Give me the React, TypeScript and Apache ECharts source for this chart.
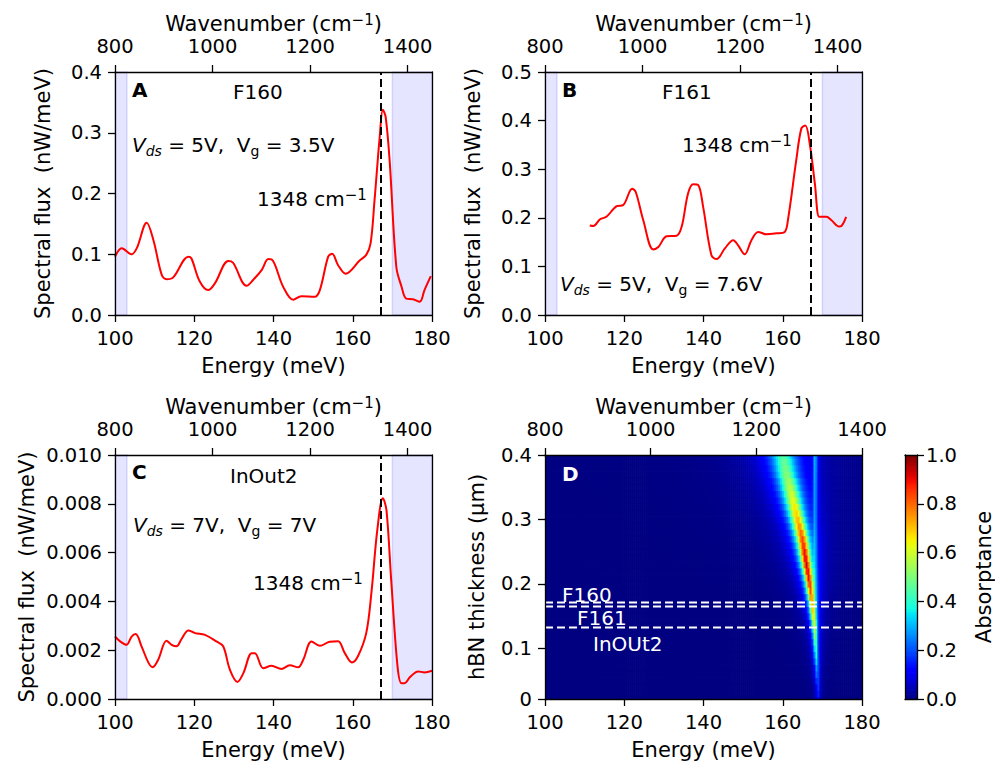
import React, { useEffect, useRef } from "react";
import * as echarts from "echarts";

const FF = "DejaVu Sans";

// ---------- data ----------
const energyA = [100, 101.7, 104.2, 105.5, 108, 109.7, 111.8, 113, 114.7, 118.5, 119.3, 121.4, 123.5, 125.2, 128.6, 129.8, 133.2, 134.9, 137, 138.7, 139.5, 142.4, 145, 147, 150.4, 151.7, 153.8, 154.8, 156.3, 158.2, 161.8, 163.4, 164.5, 165.5, 166.8, 167.6, 168.3, 169.3, 171, 172.3, 173.5, 175.2, 176.9, 178.1, 179.7];
const fluxA = [0.096, 0.110, 0.100, 0.110, 0.152, 0.123, 0.066, 0.059, 0.062, 0.096, 0.093, 0.055, 0.041, 0.052, 0.089, 0.086, 0.048, 0.058, 0.074, 0.092, 0.0915, 0.047, 0.025, 0.031, 0.030, 0.041, 0.096, 0.101, 0.082, 0.068, 0.090, 0.099, 0.118, 0.189, 0.293, 0.338, 0.326, 0.255, 0.079, 0.047, 0.027, 0.026, 0.022, 0.041, 0.064];

const energyB = [111.3, 112.2, 113.9, 115.5, 118.1, 119.7, 122, 122.9, 124.8, 127.3, 128.6, 130.7, 133.2, 134.5, 136.1, 137.4, 138.7, 139.9, 142, 143.3, 145.4, 147.5, 148.7, 150.4, 152.1, 153.8, 155.9, 158.4, 160.5, 161.3, 163.4, 164.7, 165.7, 166.8, 168.1, 169.2, 170.2, 171, 172.3, 174.2, 174.8, 176];
const fluxB = [0.184, 0.183, 0.197, 0.202, 0.224, 0.226, 0.260, 0.253, 0.195, 0.135, 0.140, 0.162, 0.163, 0.182, 0.250, 0.269, 0.267, 0.223, 0.123, 0.115, 0.137, 0.154, 0.144, 0.125, 0.154, 0.171, 0.166, 0.168, 0.171, 0.195, 0.318, 0.384, 0.390, 0.353, 0.271, 0.202, 0.202, 0.202, 0.195, 0.182, 0.183, 0.202];

const energyC = [100, 101.3, 102.9, 104.2, 105.2, 106.7, 108.4, 109.5, 110.9, 113, 114.3, 115.5, 116.8, 118.5, 120.2, 122.7, 125.6, 127.3, 129, 130.9, 132.4, 134.5, 135.3, 137.4, 139.5, 142, 144.1, 146.2, 147.5, 149.6, 151.7, 154.2, 156.3, 158, 159.8, 161.3, 163.4, 164.7, 166.2, 167.6, 168.5, 169.7, 171.3, 172.3, 173.1, 174.4, 176.5, 178.1, 180];
const fluxC = [0.00256, 0.00236, 0.00222, 0.00256, 0.00266, 0.00216, 0.0015, 0.0013, 0.00161, 0.00239, 0.00222, 0.00216, 0.00246, 0.00281, 0.0027, 0.00263, 0.00236, 0.00216, 0.0012, 0.0007, 0.00106, 0.00188, 0.00188, 0.00126, 0.00136, 0.00123, 0.00138, 0.0013, 0.00161, 0.00236, 0.00218, 0.00235, 0.00237, 0.00188, 0.0015, 0.00175, 0.0027, 0.00434, 0.00693, 0.00823, 0.00775, 0.00488, 0.00134, 0.00065, 0.00065, 0.00089, 0.00113, 0.00109, 0.00116];

const shadeLow = [100, 103];
const shadeHigh = [170, 180];
const phononWavenumber = 1348; // cm^-1
const phononEnergy = phononWavenumber / 8.0655; // meV

const wavenumberTicks = [800, 1000, 1200, 1400];

// panel D: ridge parameters per thickness row
const dThickness = [0.02, 0.03, 0.04, 0.05, 0.06, 0.07, 0.08, 0.09, 0.10, 0.11, 0.12, 0.13, 0.14, 0.15, 0.16, 0.17, 0.18, 0.19, 0.20, 0.21, 0.22, 0.23, 0.24, 0.25, 0.26, 0.27, 0.28, 0.29, 0.30, 0.31, 0.32, 0.33, 0.34, 0.35, 0.36, 0.37, 0.38, 0.39, 0.40];
const dCenter = [169.0, 168.95, 168.9, 168.8, 168.7, 168.65, 168.55, 168.45, 168.35, 168.25, 168.15, 168.05, 167.9, 167.7, 167.55, 167.4, 167.2, 167.0, 166.8, 166.55, 166.3, 166.0, 165.75, 165.5, 165.25, 164.95, 164.6, 164.2, 163.8, 163.4, 163.0, 162.6, 162.25, 161.85, 161.5, 161.0, 160.7, 160.4, 160.1];
const dHwhm = [0.4, 0.42, 0.44, 0.46, 0.48, 0.5, 0.53, 0.56, 0.58, 0.6, 0.63, 0.66, 0.7, 0.74, 0.78, 0.83, 0.88, 0.93, 0.98, 1.04, 1.1, 1.17, 1.25, 1.33, 1.42, 1.52, 1.62, 1.72, 1.83, 1.95, 2.07, 2.2, 2.33, 2.46, 2.6, 2.74, 2.88, 3.02, 3.15];
const dPeak = [0.12, 0.15, 0.18, 0.21, 0.25, 0.28, 0.32, 0.36, 0.40, 0.44, 0.48, 0.53, 0.58, 0.63, 0.68, 0.73, 0.78, 0.83, 0.87, 0.90, 0.92, 0.93, 0.92, 0.90, 0.87, 0.84, 0.80, 0.76, 0.72, 0.69, 0.66, 0.63, 0.60, 0.57, 0.54, 0.51, 0.49, 0.47, 0.45];
const dLineAmp = [0.02, 0.02, 0.02, 0.03, 0.03, 0.03, 0.04, 0.04, 0.05, 0.05, 0.06, 0.06, 0.07, 0.08, 0.08, 0.09, 0.1, 0.11, 0.12, 0.13, 0.14, 0.15, 0.16, 0.17, 0.18, 0.19, 0.2, 0.21, 0.22, 0.23, 0.24, 0.25, 0.26, 0.27, 0.28, 0.29, 0.3, 0.31, 0.32];
const dLineCenter = 168.2;
const dLineHwhm = 0.35;

const cutThickness = [0.171, 0.1645, 0.132];
const cutLabels = ["F160", "F161", "InOUt2"];

const dYTicks = [0.021, 0.1, 0.2, 0.3, 0.4];
const dYTickLabels = ["0", "0.1", "0.2", "0.3", "0.4"];

// ---------- helpers ----------
function jet(v: number) {
  const seg = (pts: number[][]) => {
    for (let i = 0; i < pts.length - 1; i++) {
      const [x0, y0] = pts[i];
      const [x1, y1] = pts[i + 1];
      if (v <= x1) return y0 + ((y1 - y0) * (v - x0)) / (x1 - x0);
    }
    return pts[pts.length - 1][1];
  };
  const r = seg([[0, 0], [0.35, 0], [0.66, 1], [0.89, 1], [1, 0.5]]);
  const g = seg([[0, 0], [0.125, 0], [0.375, 1], [0.64, 1], [0.91, 0], [1, 0]]);
  const b = seg([[0, 0.5], [0.11, 1], [0.34, 1], [0.65, 0], [1, 0]]);
  return `rgb(${Math.round(r * 255)},${Math.round(g * 255)},${Math.round(b * 255)})`;
}
const jetColors = Array.from({ length: 41 }, (_, i) => jet(i / 40));

const zip = (xs: number[], ys: number[]) => xs.map((x, i) => [x, ys[i]]);

const LS = { color: "#000", width: 1.3 };
const TICK_FS = 19.5;
const NAME_FS = 21;

const nameRich = {
  n: { fontFamily: FF, fontSize: NAME_FS, lineHeight: NAME_FS, color: "#000", verticalAlign: "bottom" },
  sup: { fontFamily: FF, fontSize: 15, lineHeight: 15, color: "#000", padding: [0, 0, 7, 0], verticalAlign: "bottom" },
};

function energyAxis(gridIndex: number) {
  return {
    type: "value", gridIndex, position: "bottom", min: 100, max: 180, interval: 20,
    name: "Energy (meV)", nameLocation: "middle", nameGap: 40,
    nameTextStyle: { fontFamily: FF, fontSize: NAME_FS, color: "#000" },
    axisLine: { show: true, onZero: false, lineStyle: LS },
    axisTick: { show: true, inside: false, length: 7, lineStyle: LS },
    axisLabel: { fontFamily: FF, fontSize: TICK_FS, color: "#000", margin: 13, formatter: (v: number) => String(v) },
    splitLine: { show: false }, z: 10,
  };
}
function wavenumberAxis(gridIndex: number, max: number) {
  return {
    type: "value", gridIndex, position: "top", min: 800, max,
    name: "{n|Wavenumber (cm}{sup|−1}{n|)}", nameLocation: "middle", nameGap: 38,
    nameTextStyle: { fontFamily: FF, fontSize: NAME_FS, color: "#000", rich: nameRich },
    axisLine: { show: true, onZero: false, lineStyle: LS },
    axisTick: { show: true, inside: false, length: 7, lineStyle: LS, customValues: wavenumberTicks },
    axisLabel: { fontFamily: FF, fontSize: TICK_FS, color: "#000", margin: 16, customValues: wavenumberTicks, formatter: (v: number) => String(Math.round(v)) },
    splitLine: { show: false }, z: 10,
  };
}
function leftAxis(gridIndex: number, max: number, interval: number, digits: number, name: string, nameGap: number) {
  return {
    type: "value", gridIndex, position: "left", min: 0, max, interval,
    name, nameLocation: "middle", nameGap, nameRotate: 90,
    nameTextStyle: { fontFamily: FF, fontSize: NAME_FS, color: "#000" },
    axisLine: { show: true, onZero: false, lineStyle: LS },
    axisTick: { show: true, inside: false, length: 7, lineStyle: LS },
    axisLabel: { fontFamily: FF, fontSize: TICK_FS, color: "#000", margin: 13, formatter: (v: number) => v.toFixed(digits) },
    splitLine: { show: false }, z: 10,
  };
}
function rightLine(gridIndex: number) {
  return {
    type: "value", gridIndex, position: "right", min: 0, max: 1,
    axisLine: { show: true, onZero: false, lineStyle: LS },
    axisTick: { show: false }, axisLabel: { show: false }, splitLine: { show: false }, z: 10,
  };
}

function spectrumSeries(idx: number, data: number[][]) {
  return {
    type: "line", xAxisIndex: idx, yAxisIndex: idx, data, smooth: 0.35, symbol: "none",
    lineStyle: { color: "#ff0000", width: 2 }, silent: true, z: 3,
    markArea: {
      silent: true,
      itemStyle: { color: "rgba(0,0,255,0.1)", borderColor: "rgba(0,0,255,0.13)", borderWidth: 1.5 },
      data: [
        [{ xAxis: shadeLow[0] }, { xAxis: shadeLow[1] }],
        [{ xAxis: shadeHigh[0] }, { xAxis: shadeHigh[1] }],
      ],
    },
    markLine: {
      silent: true, symbol: ["none", "none"], label: { show: false },
      lineStyle: { color: "#000", type: [8, 4], width: 2 },
      data: [{ xAxis: phononEnergy }],
    },
  };
}

const norm = { fontFamily: FF, fontSize: 20, lineHeight: 20, color: "#000", padding: [0, 0, 3, 0], verticalAlign: "bottom" };
const annotRich = {
  it: { ...norm, fontStyle: "italic" },
  its: { fontFamily: FF, fontSize: 14, lineHeight: 14, color: "#000", fontStyle: "italic", verticalAlign: "bottom" },
  n: norm,
  s: { fontFamily: FF, fontSize: 14, lineHeight: 14, color: "#000", verticalAlign: "bottom" },
  m: { fontFamily: FF, fontSize: 20, lineHeight: 20, color: "#000", verticalAlign: "bottom" },
  sup: { fontFamily: FF, fontSize: 15, lineHeight: 15, color: "#000", padding: [0, 0, 7, 0], verticalAlign: "bottom" },
};

function txt(x: number, y: number, text: string, opts: any = {}) {
  return {
    type: "text", x, y, z: 100, silent: true,
    style: { text, fontFamily: FF, fontSize: 20, fill: "#000", align: "left", verticalAlign: "middle", ...opts },
  };
}
const vText = (vds: string, vg: string) => `{it|V}{its|ds}{n| = ${vds},  V}{s|g}{n| = ${vg}}`;
const wnText = `{m|${phononWavenumber} cm}{sup|−1}`;

export default function App() {
  const ref = useRef<HTMLDivElement>(null);
  useEffect(() => {
    document.body.style.margin = "0";
    if (!ref.current) return;
    const chart = echarts.init(ref.current, null, { renderer: "svg" });

    const heatData: number[][] = [];
    for (let i = 0; i < dThickness.length; i++) {
      for (let k = 0; k <= 160; k++) {
        const e = 100 + k * 0.5;
        const r = (e - dCenter[i]) / dHwhm[i];
        const l = (e - dLineCenter) / dLineHwhm;
        const v = Math.min(1, dPeak[i] / (1 + r * r) + dLineAmp[i] / (1 + l * l));
        heatData.push([e, dThickness[i], v]);
      }
    }
    const cbData: number[][] = [];
    for (let k = 0; k < 100; k++) {
      const v = (k + 0.5) / 100;
      cbData.push([0.5, v, v]);
    }

    const clipTo = (rect: any, cs: any) =>
      echarts.graphic.clipRectByRect(rect, { x: cs.x, y: cs.y, width: cs.width, height: cs.height });

    const option: any = {
      animation: false,
      backgroundColor: "#fff",
      grid: [
        { left: 115, top: 72, width: 317, height: 243 },
        { left: 545, top: 72, width: 317, height: 243 },
        { left: 115, top: 455, width: 317, height: 244 },
        { left: 545, top: 455, width: 317, height: 244 },
        { left: 905, top: 455, width: 13, height: 244 },
      ],
      xAxis: [
        energyAxis(0), wavenumberAxis(0, 1450),
        energyAxis(1), wavenumberAxis(1, 1450),
        energyAxis(2), wavenumberAxis(2, 1450),
        energyAxis(3), wavenumberAxis(3, 1400),
        { type: "value", gridIndex: 4, position: "bottom", min: 0, max: 1, axisLine: { show: true, onZero: false, lineStyle: LS }, axisTick: { show: false }, axisLabel: { show: false }, splitLine: { show: false }, z: 10 },
        { type: "value", gridIndex: 4, position: "top", min: 0, max: 1, axisLine: { show: true, onZero: false, lineStyle: LS }, axisTick: { show: false }, axisLabel: { show: false }, splitLine: { show: false }, z: 10 },
      ],
      yAxis: [
        leftAxis(0, 0.4, 0.1, 1, "Spectral flux  (nW/meV)", 62), rightLine(0),
        leftAxis(1, 0.5, 0.1, 1, "Spectral flux  (nW/meV)", 62), rightLine(1),
        leftAxis(2, 0.01, 0.002, 3, "Spectral flux  (nW/meV)", 78), rightLine(2),
        {
          type: "value", gridIndex: 3, position: "left", min: dYTicks[0], max: 0.4,
          name: "hBN thickness (μm)", nameLocation: "middle", nameGap: 58, nameRotate: 90,
          nameTextStyle: { fontFamily: FF, fontSize: NAME_FS, color: "#000" },
          axisLine: { show: true, onZero: false, lineStyle: LS },
          axisTick: { show: true, inside: false, length: 7, lineStyle: LS, customValues: dYTicks },
          axisLabel: {
            fontFamily: FF, fontSize: TICK_FS, color: "#000", margin: 13, customValues: dYTicks,
            formatter: (v: number) => {
              let best = 0;
              dYTicks.forEach((t, i) => { if (Math.abs(t - v) < Math.abs(dYTicks[best] - v)) best = i; });
              return dYTickLabels[best];
            },
          },
          splitLine: { show: false }, z: 10,
        },
        rightLine(3),
        { type: "value", gridIndex: 4, position: "left", min: 0, max: 1, axisLine: { show: true, onZero: false, lineStyle: LS }, axisTick: { show: false }, axisLabel: { show: false }, splitLine: { show: false }, z: 10 },
        {
          type: "value", gridIndex: 4, position: "right", min: 0, max: 1, interval: 0.2,
          name: "Absorptance", nameLocation: "middle", nameGap: 56, nameRotate: 90,
          nameTextStyle: { fontFamily: FF, fontSize: NAME_FS, color: "#000" },
          axisLine: { show: true, onZero: false, lineStyle: LS },
          axisTick: { show: true, inside: false, length: 7, lineStyle: LS },
          axisLabel: { fontFamily: FF, fontSize: TICK_FS, color: "#000", margin: 9, formatter: (v: number) => v.toFixed(1) },
          splitLine: { show: false }, z: 10,
        },
      ],
      visualMap: {
        type: "continuous", show: false, min: 0, max: 1, dimension: 2,
        seriesIndex: [3, 4], inRange: { color: jetColors },
      },
      series: [
        spectrumSeries(0, zip(energyA, fluxA)),
        spectrumSeries(2, zip(energyB, fluxB)),
        spectrumSeries(4, zip(energyC, fluxC)),
        {
          type: "custom", xAxisIndex: 6, yAxisIndex: 6, data: heatData, silent: true, z: 1,
          renderItem: (params: any, api: any) => {
            const e = api.value(0), t = api.value(1);
            const p0 = api.coord([e - 0.25, t + 0.005]);
            const p1 = api.coord([e + 0.25, t - 0.005]);
            const rect = clipTo({ x: p0[0], y: p0[1], width: p1[0] - p0[0] + 0.7, height: p1[1] - p0[1] + 0.7 }, params.coordSys);
            if (!rect) return null;
            return { type: "rect", shape: rect, style: { fill: api.visual("color") } };
          },
        },
        {
          type: "custom", xAxisIndex: 8, yAxisIndex: 9, data: cbData, silent: true, z: 1,
          renderItem: (params: any, api: any) => {
            const v = api.value(1);
            const p0 = api.coord([0, v + 0.005]);
            const p1 = api.coord([1, v - 0.005]);
            const rect = clipTo({ x: p0[0], y: p0[1], width: p1[0] - p0[0], height: p1[1] - p0[1] + 0.7 }, params.coordSys);
            if (!rect) return null;
            return { type: "rect", shape: rect, style: { fill: api.visual("color") } };
          },
        },
        ...cutThickness.map((t) => ({
          type: "line", xAxisIndex: 6, yAxisIndex: 6, data: [[100, t], [180, t]], symbol: "none", silent: true, z: 5,
          lineStyle: { color: "#fff", type: [8, 4], width: 2 },
        })),
      ],
      graphic: [
        txt(132, 90, "A", { fontWeight: "bold", fontSize: 20 }),
        txt(233, 92, "F160"),
        txt(132, 147.5, vText("5V", "3.5V"), { rich: annotRich }),
        txt(257, 199, wnText, { rich: annotRich }),

        txt(562, 90, "B", { fontWeight: "bold", fontSize: 20 }),
        txt(662, 92, "F161"),
        txt(682, 145, wnText, { rich: annotRich }),
        txt(560, 286.5, vText("5V", "7.6V"), { rich: annotRich }),

        txt(132, 472, "C", { fontWeight: "bold", fontSize: 20 }),
        txt(230, 476, "InOut2"),
        txt(133, 527.5, vText("7V", "7V"), { rich: annotRich }),
        txt(253, 583, wnText, { rich: annotRich }),

        txt(562, 474, "D", { fontWeight: "bold", fontSize: 20, fill: "#fff" }),
        txt(562, 594.7, cutLabels[0], { fill: "#fff" }),
        txt(577, 618, cutLabels[1], { fill: "#fff" }),
        txt(593, 644, cutLabels[2], { fill: "#fff" }),
      ],
    };
    chart.setOption(option);
    return () => chart.dispose();
  }, []);
  return <div ref={ref} style={{ width: 995, height: 767 }} />;
}
